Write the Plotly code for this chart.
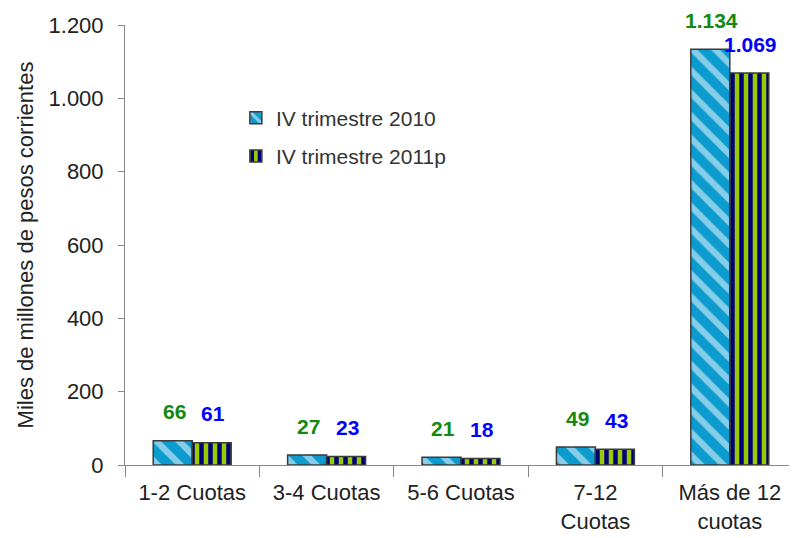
import plotly.graph_objects as go

categories = ["1-2 Cuotas", "3-4 Cuotas", "5-6 Cuotas", "7-12<br>Cuotas", "Más de 12<br>cuotas"]
series_2010 = [66, 27, 21, 49, 1134]
series_2011 = [61, 23, 18, 43, 1069]
labels_2010 = ["66", "27", "21", "49", "1.134"]
labels_2011 = ["61", "23", "18", "43", "1.069"]
y_ticks = [0, 200, 400, 600, 800, 1000, 1200]

FONT = "Liberation Sans"

fig = go.Figure()
fig.add_trace(go.Bar(
    name="IV trimestre 2010", x=categories, y=series_2010, legendgroup="a",
    marker=dict(color="#0C9BCF", line=dict(color="#3A3A3A", width=1.5),
                pattern=dict(shape="\\", fgcolor="white", size=16, solidity=0.4)),
))
fig.add_trace(go.Bar(
    name="IV trimestre 2011p", x=categories, y=series_2011, legendgroup="b",
    marker=dict(color="#99CC00", line=dict(color="#3A3A3A", width=1.5),
                pattern=dict(shape="|", fgcolor="#00007A", fgopacity=1, size=9, solidity=0.5)),
))

annotations = []
for cat, v, t in zip(categories, series_2010, labels_2010):
    annotations.append(dict(x=cat, y=v, text="<b>" + t + "</b>", showarrow=False,
                            xshift=-18, yshift=29, yanchor="middle",
                            font=dict(color="#128A12", size=21, family=FONT)))
for cat, v, t in zip(categories, series_2011, labels_2011):
    annotations.append(dict(x=cat, y=v, text="<b>" + t + "</b>", showarrow=False,
                            xshift=21, yshift=29, yanchor="middle",
                            font=dict(color="#0000FF", size=21, family=FONT)))

fig.update_layout(
    width=789, height=530,
    margin=dict(l=117, r=0, t=17, b=73),
    paper_bgcolor="white", plot_bgcolor="white",
    barmode="group", bargap=0.42, bargroupgap=0,
    separators=",.",
    font=dict(family=FONT, size=21, color="#222"),
    showlegend=True,
    annotations=annotations,
    legend=dict(x=0.165, y=0.835, xanchor="left", yanchor="top",
                bgcolor="rgba(0,0,0,0)", font=dict(size=21, color="#333"),
                tracegroupgap=8, itemwidth=30),
    xaxis=dict(showline=True, linecolor="#888", linewidth=1,
               ticks="outside", tickson="boundaries", ticklen=11, tickcolor="#888",
               ticklabelstandoff=8,
               tickfont=dict(size=22, color="#222")),
    yaxis=dict(range=[0, 1200], tickvals=y_ticks, tickformat=",d",
               showline=True, linecolor="#888", linewidth=1,
               ticks="outside", ticklen=6, tickcolor="#888", showgrid=False,
               zeroline=False, ticklabelstandoff=10,
               tickfont=dict(size=22, color="#222"),
               title=dict(text="Miles de millones de pesos corrientes",
                          font=dict(size=22, color="#222"), standoff=8)),
)

fig.write_html("out.html")
